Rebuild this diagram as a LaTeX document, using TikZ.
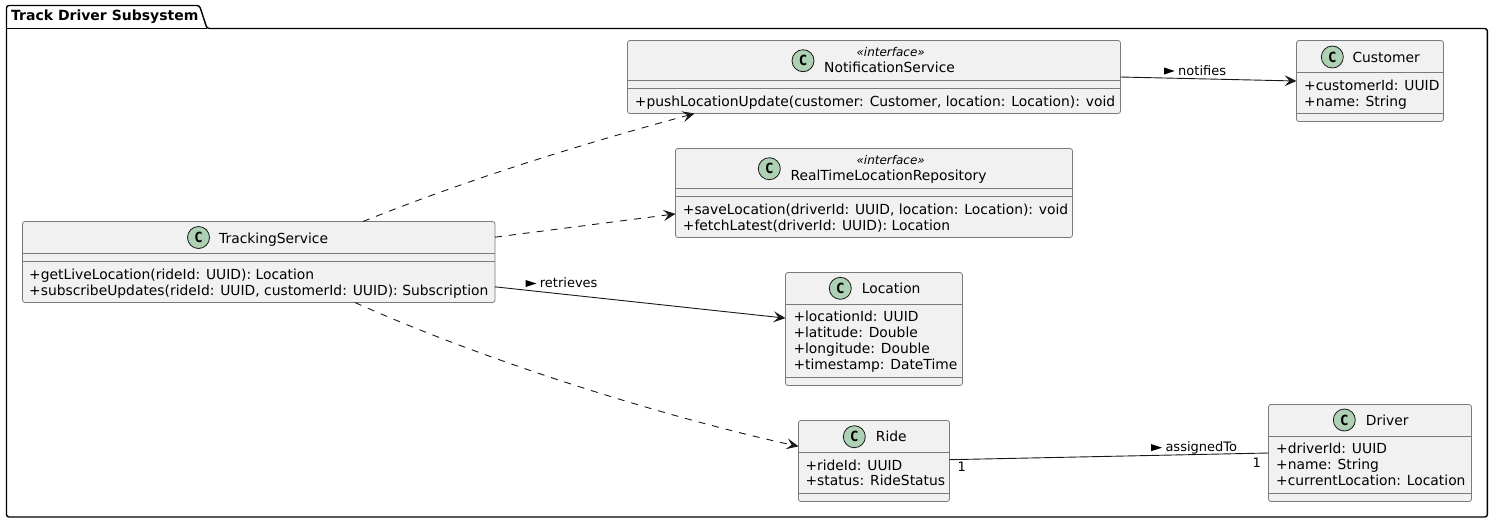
\documentclass[tikz,border=0pt]{standalone}
\usepackage{fontspec}
\setmainfont{DejaVu Sans}
\newfontfamily\spotfont{DejaVu Sans Mono}[BoldFont={DejaVu Sans Mono Bold}]
\usepackage{tikz}
\usetikzlibrary{arrows.meta,calc}
\definecolor{boxfill}{HTML}{F1F1F1}
\definecolor{boxline}{HTML}{7A7A7A}
\definecolor{spotfill}{HTML}{ADD1B2}
\definecolor{inkline}{HTML}{181818}

\begin{document}
\begin{tikzpicture}[x=1pt,y=-1pt,
  cls/.style={draw=boxline,fill=boxfill,line width=0.8pt,rounded corners=2.5pt,inner sep=0pt,outer sep=0pt},
  divider/.style={draw=boxline,line width=0.8pt},
  spot/.style={circle,draw=inkline,fill=spotfill,line width=0.8pt,minimum size=22pt,inner sep=0pt,font=\spotfont\bfseries\fontsize{14}{14}\selectfont},
  cname/.style={anchor=base west,inner sep=0pt,font=\fontsize{13.85}{16}\selectfont},
  memb/.style={anchor=base west,inner sep=0pt,font=\fontsize{13.85}{16}\selectfont},
  stereo/.style={anchor=base,inner sep=0pt,font=\itshape\fontsize{12}{14}\selectfont},
  lb/.style={anchor=base west,inner sep=0pt,font=\fontsize{13}{15}\selectfont},
  mult/.style={anchor=base,inner sep=0pt,font=\fontsize{13}{15}\selectfont},
  dep/.style={draw=inkline,line width=0.9pt,dash pattern=on 7pt off 7pt,-{Stealth[length=12pt,width=11pt,inset=5pt]}},
  assoc/.style={draw=inkline,line width=0.9pt,-{Stealth[length=12pt,width=11pt,inset=5pt]}},
  plainassoc/.style={draw=inkline,line width=0.9pt}]
\useasboundingbox (0,0) rectangle (1493,523);
\fill[white] (0,0) rectangle (1493,523);

% package frame
\draw[black,line width=1.4pt,rounded corners=2.5pt] (6.5,28.5) -- (6.5,5.5) -- (199.5,5.5) -- (207,28.5) -- (1487.3,28.5) -- (1487.3,517) -- (6.5,517) -- cycle;
\draw[black,line width=1.4pt] (6.5,28.5) -- (207,28.5);
\node[anchor=base west,inner sep=0pt,font=\bfseries\fontsize{14}{16}\selectfont] (pkgtitle) at (11,20.7) {Track Driver Subsystem};

% TrackingService
\node[cls,minimum width=472.5pt,minimum height=81pt] (tracking) at (258.75,262) {};
\draw[divider] (tracking.west |- 0,253) -- (tracking.east |- 0,253);
\draw[divider] (tracking.west |- 0,261) -- (tracking.east |- 0,261);
\node[spot] (trackingspot) at (198.5,237.5) {C};
\node[cname] (trackingname) at (219,243.3) {TrackingService};
\node[memb] (trackingm1) at (29,279.3) {+getLiveLocation(rideId: UUID): Location};
\node[memb] (trackingm2) at (29,295.3) {+subscribeUpdates(rideId: UUID, customerId: UUID): Subscription};

% NotificationService
\node[cls,minimum width=493pt,minimum height=73pt] (notif) at (874,77) {};
\draw[divider] (notif.west |- 0,80.5) -- (notif.east |- 0,80.5);
\draw[divider] (notif.west |- 0,88.5) -- (notif.east |- 0,88.5);
\node[spot] (notifspot) at (803,60.7) {C};
\node[stereo] (notifst) at (890.7,56) {«interface»};
\node[cname] (notifname) at (824,72.7) {NotificationService};
\node[memb] (notifm1) at (634.7,106) {+pushLocationUpdate(customer: Customer, location: Location): void};

% RealTimeLocationRepository
\node[cls,minimum width=397pt,minimum height=89pt] (repo) at (874,193) {};
\draw[divider] (repo.west |- 0,188.5) -- (repo.east |- 0,188.5);
\draw[divider] (repo.west |- 0,196.5) -- (repo.east |- 0,196.5);
\node[spot] (repospot) at (769.3,168.7) {C};
\node[stereo] (repost) at (890.7,164) {«interface»};
\node[cname] (reponame) at (790.3,180.7) {RealTimeLocationRepository};
\node[memb] (repom1) at (682.7,214) {+saveLocation(driverId: UUID, location: Location): void};
\node[memb] (repom2) at (682.7,230) {+fetchLatest(driverId: UUID): Location};

% Customer
\node[cls,minimum width=147pt,minimum height=81pt] (customer) at (1370,81) {};
\draw[divider] (customer.west |- 0,72.5) -- (customer.east |- 0,72.5);
\draw[divider] (customer.west |- 0,113.5) -- (customer.east |- 0,113.5);
\node[spot] (customerspot) at (1332.3,57) {C};
\node[cname] (customername) at (1352.3,62) {Customer};
\node[memb] (customerm1) at (1304,90) {+customerId: UUID};
\node[memb] (customerm2) at (1304,106) {+name: String};

% Location
\node[cls,minimum width=177pt,minimum height=113pt] (location) at (874,329) {};
\draw[divider] (location.west |- 0,304.5) -- (location.east |- 0,304.5);
\draw[divider] (location.west |- 0,377.5) -- (location.east |- 0,377.5);
\node[spot] (locationspot) at (840.3,288.3) {C};
\node[cname] (locationname) at (861.7,293) {Location};
\node[memb] (locationm1) at (793.3,321) {+locationId: UUID};
\node[memb] (locationm2) at (793.3,337.4) {+latitude: Double};
\node[memb] (locationm3) at (793.3,353.6) {+longitude: Double};
\node[memb] (locationm4) at (793.3,369.7) {+timestamp: DateTime};

% Ride
\node[cls,minimum width=151pt,minimum height=81pt] (ride) at (874,461) {};
\draw[divider] (ride.west |- 0,452.5) -- (ride.east |- 0,452.5);
\draw[divider] (ride.west |- 0,493.5) -- (ride.east |- 0,493.5);
\node[spot] (ridespot) at (854.3,436.7) {C};
\node[cname] (ridename) at (875.7,441.7) {Ride};
\node[memb] (ridem1) at (805.3,470) {+rideId: UUID};
\node[memb] (ridem2) at (805.3,485.8) {+status: RideStatus};

% Driver
\node[cls,minimum width=203pt,minimum height=97pt] (driver) at (1370,453) {};
\draw[divider] (driver.west |- 0,436.5) -- (driver.east |- 0,436.5);
\draw[divider] (driver.west |- 0,493.5) -- (driver.east |- 0,493.5);
\node[spot] (driverspot) at (1344.3,420) {C};
\node[cname] (drivername) at (1365.7,425) {Driver};
\node[memb] (driverm1) at (1276,453.4) {+driverId: UUID};
\node[memb] (driverm2) at (1276,469.8) {+name: String};
\node[memb] (driverm3) at (1276,485.8) {+currentLocation: Location};

% relations
\draw[dep] ($(tracking.north west)+(340.5,0)$) .. controls (473,177.5) and (584,143.5) .. ($(notif.south west)+(67,0)$);
\draw[dep] (tracking.6.8) -- (repo.186.3);
\draw[assoc] (tracking.-6) -- (location.173.55);
\draw[dep] ($(tracking.south west)+(332.5,0)$) .. controls (485,361) and (668,418) .. (ride.169.3);
\draw[assoc] (notif.-0.3) -- (customer.180);
\draw[plainassoc] (ride.1.5) -- (driver.180.7);

% edge labels
\fill[black] (525.5,280) -- (536.5,283.5) -- (525.5,287) -- cycle;
\node[lb] (retrieves) at (539.7,287.3) {retrieves};
\fill[black] (1164,67.5) -- (1174.5,71) -- (1164,74.5) -- cycle;
\node[lb] (notifies) at (1178,75.7) {notifies};
\fill[black] (1151,444) -- (1162,447.7) -- (1151,451.2) -- cycle;
\node[lb] (assigned) at (1165.3,451.7) {assignedTo};
\node[mult] (ridemult) at (961.7,471.7) {1};
\node[mult] (drivermult) at (1256.7,467.3) {1};
\end{tikzpicture}
\end{document}
